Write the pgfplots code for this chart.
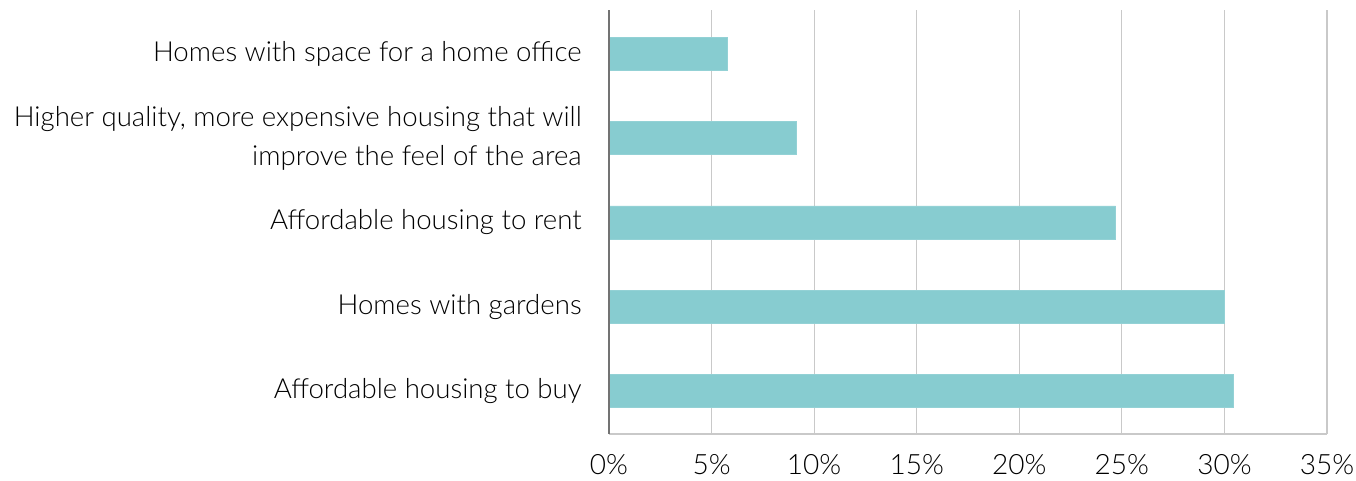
\documentclass[border=0pt]{standalone}
\usepackage{pgfplots}
\pgfplotsset{compat=1.18}
\usepackage{fontspec}
\setmainfont{Lato}[UprightFont={* Light}]
\definecolor{barc}{HTML}{87CCD0}
\definecolor{gridc}{HTML}{C9C9C9}
\begin{document}
\begin{tikzpicture}
\begin{axis}[
  scale only axis,
  width=538.5pt, height=318pt,
  xbar, bar width=24.75pt,
  xmin=0, xmax=35,
  ymin=-0.51, ymax=4.52,
  xtick={0,5,...,35},
  xticklabels={0\%,5\%,10\%,15\%,20\%,25\%,30\%,35\%},
  ytick={0,1,2,3,4},
  yticklabels={Affordable housing to buy, Homes with gardens, Affordable housing to rent, {Higher quality, more expensive housing that will\\improve the feel of the area}, Homes with space for a home office},
  yticklabel style={align=right, font=\fontsize{20.7}{29.25}\selectfont, xshift=-17pt},
  xticklabel style={font=\fontsize{21}{24}\selectfont, yshift=-12pt},
  major tick length=0pt,
  xmajorgrids, grid style={gridc, line width=0.9pt},
  axis line style={draw=none},
  clip=false,
]
\addplot[fill=barc, draw=barc!90!white, line width=0.6pt] coordinates {(30.43,0) (30.0,1) (24.7,2) (9.15,3) (5.75,4)};
\draw[gridc, line width=0.9pt] (axis cs:0,-0.51) -- (axis cs:35,-0.51);
\draw[black!55, line width=0.9pt] (axis cs:0,-0.51) -- (axis cs:0,4.52);
\end{axis}
\pgfresetboundingbox
\path (-456.75pt,-35.25pt) rectangle (560.25pt,325.5pt);
\end{tikzpicture}
\end{document}
